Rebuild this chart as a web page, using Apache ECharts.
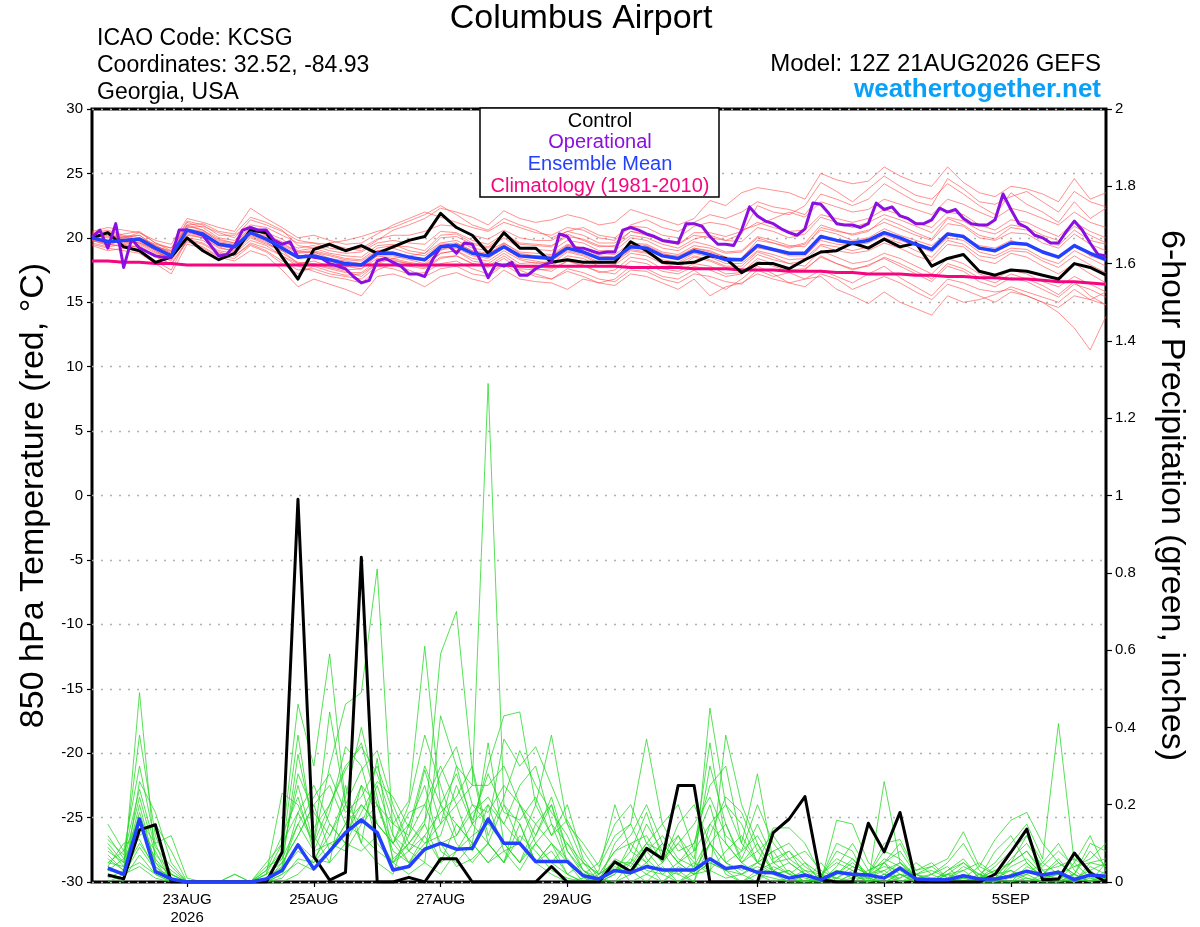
<!DOCTYPE html>
<html><head><meta charset="utf-8">
<script src="https://cdn.jsdelivr.net/npm/echarts@6/dist/echarts.min.js"></script>
<style>html,body{margin:0;padding:0;background:#fff}#c{width:1200px;height:927px}</style>
</head><body><div id="c"></div>
<script>
// x axis: 6-hour steps from 12Z 21AUG2026 (step 0) to step 64
const tickIdx = [6, 14, 22, 30, 42, 50, 58];
const tickText = ['23AUG\n2026', '25AUG', '27AUG', '29AUG', '1SEP', '3SEP', '5SEP'];

// 850 hPa temperature (°C), 6-hourly, steps 0..64
const control = [20.0,20.4,19.3,19.0,18.1,18.5,20.0,19.0,18.3,18.8,20.6,
  20.4,18.5,16.8,19.1,19.5,19.0,19.4,18.8,19.3,19.8,20.1,
  21.9,20.8,20.2,18.8,20.4,19.2,19.2,18.1,18.3,18.1,18.1,
  18.1,19.7,19.0,18.1,18.0,18.1,18.6,18.4,17.3,18.0,
  18.0,17.6,18.3,18.9,19.0,19.6,19.2,19.9,19.3,19.6,17.8,
  18.4,18.7,17.4,17.1,17.5,17.4,17.1,16.8,18.0,17.7,17.1];
const ensMean = [20.0,19.7,19.8,19.9,19.2,18.6,20.6,20.3,19.5,19.3,20.4,
  19.9,19.2,18.5,18.6,18.3,18.0,17.9,18.8,18.8,18.5,18.3,
  19.3,19.4,18.8,18.6,19.3,18.6,18.5,18.4,19.2,18.9,18.4,
  18.4,19.3,19.2,18.6,18.4,19.0,18.7,18.3,18.3,19.4,
  19.1,18.8,18.8,20.1,19.8,19.6,19.8,20.4,20.0,19.5,19.1,
  20.3,20.1,19.2,19.0,19.6,19.5,18.9,18.5,19.4,18.8,18.3];
const climatology = [18.2,18.2,18.1,18.1,18.0,18.0,17.9,17.9,17.9,17.9,17.9,
  17.9,17.9,17.9,17.9,17.9,17.9,17.9,17.9,17.9,17.9,17.9,
  17.9,17.9,17.9,17.9,17.9,17.8,17.8,17.8,17.8,17.8,17.8,
  17.8,17.7,17.7,17.7,17.7,17.6,17.6,17.6,17.5,17.5,
  17.5,17.4,17.4,17.4,17.3,17.3,17.2,17.2,17.2,17.1,17.1,
  17.0,17.0,16.9,16.9,16.8,16.8,16.7,16.6,16.6,16.5,16.4];
// operational run is 3-hourly: half steps 0, 0.5, 1 ... 64
const operational = [20.05,20.6,19.2,21.1,17.7,19.9,19.2,18.9,18.6,18.5,18.5,
  20.6,20.6,20.4,20.2,19.4,18.6,18.7,19.4,20.6,20.8,20.6,
  20.6,19.8,19.5,19.7,18.5,18.6,18.5,18.4,18.0,17.8,17.6,
  17.0,16.5,16.7,18.2,18.4,18.1,17.8,17.2,17.2,17.0,
  18.3,19.3,19.4,18.8,19.6,19.5,18.3,16.9,18.0,17.8,18.1,
  17.1,17.1,17.6,17.9,18.1,20.3,20.1,19.2,19.2,19.0,18.8,
  18.9,18.9,20.6,20.8,20.6,20.3,20.1,19.8,19.7,19.6,21.1,
  21.1,20.9,20.1,19.5,19.5,19.4,20.6,22.4,21.7,21.3,
  21.1,20.7,20.4,20.2,20.7,22.7,22.6,21.9,21.1,21.0,21.0,
  20.8,21.1,22.7,22.2,22.4,21.7,21.5,21.1,21.1,21.4,22.3,
  22.0,22.2,21.5,21.1,21.0,21.0,21.4,23.4,22.2,21.1,20.8,
  20.2,20.0,19.6,19.6,20.5,21.3,20.6,19.6,18.7,18.6];

const tM1 = [20.2,20.0,20.3,20.5,19.6,19.2,20.8,20.9,20.4,20.0,21.4,21.0,20.5,19.8,19.6,19.5,19.2,19.0,19.8,20.6,21.0,
  21.5,22.3,22.0,21.6,21.0,22.1,21.5,21.2,21.4,21.8,21.5,21.0,21.2,22.2,21.8,21.4,21.0,21.5,22.9,22.5,23.5,
  23.9,23.7,23.5,23.0,25.0,24.5,24.2,24.4,25.5,24.8,24.3,24.0,25.5,24.3,23.5,23.2,24.0,23.8,23.4,22.8,24.6,23.0,23.5];
const tM2 = [19.6,19.3,19.5,19.2,18.5,18.0,19.8,19.5,18.8,18.6,19.5,19.0,18.2,17.5,17.6,17.2,17.0,16.8,17.8,17.6,
  17.2,17.3,18.0,18.2,17.6,17.2,18.0,17.5,17.0,16.8,17.6,17.3,16.8,16.6,17.5,17.4,16.8,16.5,17.2,17.0,16.6,16.4,
  17.5,17.0,17.3,16.8,17.5,17.0,16.5,17.2,17.8,16.9,16.2,15.5,16.8,16.5,16.0,15.8,
  16.0,15.5,15.0,14.2,13.0,11.3,13.9];
const tM3 = [19.5,19.2,19.0,18.8,18.0,17.2,19.5,19.2,18.5,18.2,19.0,18.6,17.5,16.2,16.8,16.4,16.0,15.5,17.0,17.2,
  16.8,16.2,17.0,17.3,16.8,16.5,17.5,16.8,16.6,16.5,16.0,16.8,16.5,16.3,17.2,17.0,16.5,16.0,16.8,15.5,16.2,16.5,
  17.2,16.8,16.5,16.8,17.0,16.0,15.5,14.9,15.8,15.0,14.5,14.0,15.5,15.0,15.2,15.6,16.2,15.8,15.4,15.0,16.0,15.2,15.8];
const tM4 = [20.5,20.8,20.6,20.4,19.8,19.5,21.5,21.2,20.8,20.5,22.3,21.5,20.8,20.0,20.2,19.8,19.5,19.6,20.3,21.0,
  21.5,22.0,21.6,21.2,20.8,20.5,21.2,20.8,20.4,20.2,20.8,20.6,20.0,19.8,20.9,20.8,20.2,20.0,20.9,21.2,
  21.0,20.6,21.0,21.5,22.0,21.6,22.8,22.4,22.0,22.2,23.0,22.6,22.2,21.8,23.0,22.6,22.0,21.5,22.3,22.0,
  21.5,21.0,22.0,21.2,20.8];
const tM5 = [20.0,20.4,20.0,20.2,19.4,18.8,21.0,20.6,19.9,19.6,20.8,20.2,19.6,18.9,19.0,18.7,18.4,18.3,19.2,19.4,
  19.3,19.0,20.2,20.3,19.6,19.3,20.2,19.5,19.4,19.3,20.3,19.8,19.3,19.4,20.5,20.2,19.8,19.5,20.2,20.0,19.8,20.3,
  22.5,22.0,21.8,22.5,24.3,23.6,22.8,23.8,24.8,24.0,23.3,23.0,24.2,23.4,22.5,21.8,23.5,22.6,22.0,21.2,22.8,21.5,22.3];
const tM6 = [19.8,19.4,19.9,19.6,18.9,18.4,20.2,20.0,19.3,18.9,20.0,19.5,19.0,18.0,18.2,17.8,17.5,17.6,18.4,18.2,
  18.0,17.8,18.8,19.0,18.2,18.0,18.8,18.0,18.1,17.8,18.6,18.4,17.8,17.9,18.8,18.6,18.0,17.7,18.5,18.2,
  17.7,17.6,18.7,18.3,18.0,18.2,19.4,19.0,18.8,19.0,19.6,19.2,18.6,18.2,19.5,19.3,18.3,18.0,18.8,18.5,
  17.8,17.2,18.0,17.2,16.5];
const tM7 = [20.3,20.1,20.0,20.4,19.6,19.0,21.2,20.8,20.0,19.8,20.9,20.4,19.9,19.0,19.2,18.8,18.6,18.5,19.4,19.5,
  19.0,18.8,20.0,20.1,19.5,19.2,20.0,19.2,19.1,19.0,19.8,19.6,19.0,19.0,20.0,19.8,19.2,19.0,19.7,19.4,
  18.9,19.0,20.1,19.8,19.4,19.3,20.8,20.5,20.3,20.6,21.2,20.7,20.2,19.8,21.1,20.9,20.0,19.8,20.4,20.3,
  19.6,19.2,20.3,19.5,19.0];
const tM8 = [19.7,19.9,19.5,19.7,19.0,18.3,20.3,20.0,19.2,19.0,20.2,19.7,18.8,18.1,18.0,17.7,17.4,17.0,18.0,18.4,
  18.6,18.8,19.6,19.8,19.2,19.0,19.6,18.9,18.8,18.7,19.5,19.2,18.8,18.7,19.6,19.5,18.9,18.7,19.4,19.2,
  18.8,18.9,20.0,19.6,19.3,19.6,21.0,20.6,20.2,20.5,21.5,21.0,20.4,19.9,21.5,21.0,20.2,19.9,20.8,20.6,
  20.0,19.4,20.6,19.8,19.5];
const tM9 = [20.1,19.6,19.7,19.6,19.1,18.6,20.4,20.1,19.4,19.2,20.3,19.8,19.2,18.6,18.5,18.4,18.2,18.0,19.0,18.9,
  18.5,18.2,19.1,19.2,18.6,18.4,19.2,18.4,18.2,18.0,18.9,18.6,18.0,18.1,19.0,18.8,18.2,18.0,18.6,18.3,
  17.8,17.8,18.9,18.5,18.0,17.8,19.0,18.5,18.0,18.2,18.8,18.4,17.8,17.2,18.4,18.0,17.2,16.8,17.5,17.2,
  16.6,16.2,17.0,16.4,15.8];
const tM10 = [20.0,20.2,19.8,19.5,18.8,18.5,20.9,20.6,19.7,19.5,20.6,20.0,19.4,18.8,18.9,18.4,18.0,17.8,18.6,18.6,
  18.3,18.0,19.0,19.6,19.0,18.8,19.5,18.6,18.6,18.5,19.4,19.0,18.5,18.4,19.4,19.3,18.7,18.6,19.2,18.9,
  18.5,18.4,19.8,19.6,19.2,19.5,20.6,20.3,19.8,20.0,20.7,20.2,19.8,19.4,20.4,20.0,19.4,19.2,19.8,19.4,
  19.0,18.4,19.5,18.6,18.2];
const tM11 = [20.2,19.8,20.1,20.2,19.3,18.8,20.6,20.4,19.6,19.4,20.5,20.1,19.5,18.9,18.9,18.6,18.3,18.2,19.0,19.2,
  18.8,18.6,19.5,19.6,19.0,18.6,19.6,18.8,18.6,18.6,19.4,19.2,18.6,18.5,19.5,19.4,18.8,18.5,19.2,19.0,
  18.5,18.2,19.2,19.0,18.6,18.6,19.8,19.5,19.4,19.6,20.2,19.8,19.4,18.9,20.0,19.8,18.9,18.6,19.2,19.1,
  18.4,18.0,19.0,18.4,17.8];
const tM12 = [19.4,19.0,19.2,19.0,18.2,17.5,19.9,19.6,18.9,18.6,19.6,19.2,18.6,17.8,17.4,17.0,16.8,16.5,17.5,18.0,
  17.8,17.6,18.4,18.6,18.0,17.8,18.6,17.8,17.6,17.4,18.2,17.8,17.4,17.2,18.2,18.0,17.4,17.2,17.8,17.5,
  17.0,17.2,18.2,17.8,17.4,17.5,18.6,18.0,17.6,17.8,18.5,18.0,17.4,16.8,18.0,17.6,16.9,16.5,17.2,16.8,
  16.3,15.6,16.6,15.5,14.8];
const tM13 = [20.4,20.6,20.2,20.0,19.5,19.2,21.3,21.0,20.2,20.2,21.0,20.8,20.2,19.6,19.6,19.2,19.0,19.2,19.9,20.2,
  20.2,20.5,21.0,20.9,20.2,19.9,20.6,20.0,19.8,19.8,20.5,20.2,19.6,19.6,20.5,20.3,19.7,19.5,20.4,20.4,
  20.1,20.5,21.2,20.8,20.5,20.6,21.8,21.5,21.2,21.5,22.2,21.8,21.2,20.8,22.0,21.8,21.0,20.6,21.4,21.2,
  20.6,20.1,21.2,20.5,20.0];
const tM14 = [19.9,19.7,19.6,19.8,19.0,18.4,20.5,20.2,19.4,19.1,20.1,19.6,19.0,18.4,18.8,18.2,17.8,17.6,18.6,18.4,
  18.1,17.9,18.8,19.0,18.4,18.2,19.0,18.3,18.0,18.2,19.0,18.7,18.1,18.2,19.1,18.9,18.3,18.1,18.8,18.5,
  18.0,18.0,19.0,18.7,18.3,18.4,19.5,19.3,19.0,19.3,20.0,19.6,19.0,18.5,19.8,19.5,18.6,18.4,19.0,18.9,
  18.2,17.7,18.6,17.9,17.3];
const tM15 = [20.3,20.5,20.1,19.8,19.3,19.0,21.0,21.1,20.5,20.3,21.6,
  21.2,20.6,19.4,19.2,19.6,19.8,20.1,20.5,20.8,21.3,21.8,
  22.5,21.8,21.0,20.6,21.5,21.0,20.6,20.0,20.5,20.8,20.2,
  20.0,21.0,21.4,20.8,20.5,21.2,21.8,21.5,22.0,22.8,
  22.4,22.2,21.8,23.4,23.0,22.5,23.0,24.2,23.5,22.8,22.5,
  24.6,23.8,22.8,22.6,23.2,23.6,22.8,22.0,23.6,22.8,22.4];
const tM16 = [19.8,19.5,19.3,19.4,18.6,17.9,19.7,19.3,18.6,18.4,19.4,
  18.9,18.0,17.2,17.8,17.4,17.1,17.2,18.0,17.9,17.5,17.0,
  17.6,17.8,17.2,17.0,17.9,17.2,17.2,16.8,17.4,17.0,16.5,
  16.8,17.8,17.6,17.0,16.8,17.5,16.6,16.0,16.8,17.8,
  17.2,16.5,16.2,17.2,16.8,16.0,16.5,17.0,16.5,15.8,15.2,
  16.4,16.0,15.5,15.0,15.8,15.5,15.0,14.6,15.5,15.2,14.8];
const tM17 = [20.1,20.3,19.9,20.0,19.4,18.9,20.7,20.5,19.8,19.6,20.7,
  20.2,19.7,19.2,19.4,19.0,18.8,18.9,19.6,19.8,19.6,19.5,
  20.5,20.4,19.8,19.5,20.3,19.6,19.5,19.4,20.1,19.9,19.4,
  19.3,20.2,20.0,19.5,19.2,19.9,20.2,19.8,19.7,20.8,
  20.5,20.0,20.3,21.6,21.2,20.8,21.2,21.8,21.4,20.9,20.4,
  21.6,21.3,20.6,20.3,21.0,20.8,20.2,19.8,20.9,20.2,19.6];
const tM18 = [19.9,19.5,19.4,19.3,18.7,18.2,20.0,19.8,19.0,18.8,19.8,
  19.4,18.6,18.0,17.9,17.6,17.3,17.3,18.2,18.3,18.0,17.7,
  18.5,18.6,18.0,17.7,18.4,17.6,17.5,17.6,18.2,17.9,17.3,
  17.5,18.5,18.3,17.6,17.4,18.0,17.8,17.2,17.3,18.4,
  18.0,17.5,17.6,18.5,18.0,17.5,17.9,18.4,17.8,17.2,16.6,
  17.8,17.4,16.6,16.2,16.9,16.6,16.0,15.4,16.4,16.0,15.4];
const tempMembers = [tM1,tM2,tM3,tM4,tM5,tM6,tM7,tM8,tM9,tM10,tM11,tM12,tM13,tM14,tM15,tM16,tM17,tM18];

// 6-hour precipitation (inches), steps 1..64
const pControl = [0.018,0.008,0.135,0.148, 0,0,0,0, 0,0,0,0.077, 0.99,0.066,0.005,0.025,
  0.84,0,0,0.012, 0,0.06,0.06,0, 0,0,0,0, 0.04,0,0,0,
  0.052,0.027,0.087,0.06, 0.25,0.25,0,0, 0,0,0.128,0.163, 0.221,0.006,0,0,
  0.152,0.078,0.18,0, 0,0,0,0, 0.02,0.077,0.137,0.006, 0.008,0.075,0.024,0];
const pMean = [0.036,0.02,0.163,0.027, 0.008,0,0,0, 0,0,0.008,0.03, 0.096,0.034,0.08,0.128,
  0.161,0.128,0.031,0.04, 0.085,0.1,0.085,0.087, 0.163,0.1,0.1,0.053, 0.053,0.053,0.016,0.008,
  0.03,0.024,0.04,0.031, 0.031,0.031,0.06,0.035, 0.04,0.025,0.024,0.01, 0.018,0.006,0.025,0.02,
  0.018,0.01,0.036,0.008, 0.006,0.006,0.016,0.008, 0.008,0.015,0.028,0.018, 0.025,0.006,0.018,0.015];
const pG1 = [0.03,0.02,0.49,0.05, 0,0,0,0, 0,0,0.02,0.05, 0.12,0.2,0.08,0.15,
  0.25,0.1,0.05,0.12, 0.29,0.15,0.3,0.25, 1.29,0.2,0.1,0.05, 0.08,0.02,0,0.01,
  0.03,0.05,0.02,0, 0.04,0.02,0.05,0.03, 0,0.02,0.01,0, 0,0.01,0.03,0.02,
  0,0.01,0.02,0, 0,0.01,0.03,0, 0,0.02,0.05,0.01, 0.03,0,0.02,0.01];
const pG2 = [0.08,0.05,0.38,0.12, 0.02,0,0,0, 0.02,0,0.03,0.08, 0.25,0.1,0.3,0.46,
  0.49,0.81,0.12,0.05, 0.08,0.1,0.04,0.06, 0.1,0.05,0.12,0.08, 0.03,0.01,0,0.02,
  0.05,0.02,0.08,0.03, 0.02,0.05,0.03,0.01, 0.02,0.05,0.03,0.01, 0,0.02,0.01,0.03,
  0.01,0.05,0,0.01, 0,0.02,0.01,0.04, 0.02,0.03,0.01,0, 0.01,0.02,0,0.03];
const pG3 = [0.05,0.08,0.3,0.1, 0.12,0.01,0,0, 0,0,0.05,0.1, 0.46,0.3,0.59,0.2,
  0.15,0.2,0.08,0.05, 0.12,0.05,0.15,0.1, 0.05,0.08,0.03,0.1, 0.15,0.05,0.02,0,
  0.1,0.15,0.06,0.02, 0,0.03,0.1,0.05, 0.02,0,0.04,0.02, 0.01,0,0.02,0.05,
  0.02,0.03,0,0.02, 0.04,0.01,0,0.02, 0,0.05,0.08,0.02, 0.01,0,0.04,0.02];
const pG4 = [0.02,0,0.26,0.18, 0.05,0,0,0, 0,0,0.01,0.04, 0.33,0.14,0.2,0.29,
  0.36,0.2,0.15,0.21, 0.61,0.2,0.15,0.1, 0.36,0.1,0.05,0.12, 0.2,0.08,0.03,0.01,
  0,0.05,0.1,0.15, 0.2,0.08,0.36,0.1, 0.05,0.02,0,0.01, 0.03,0,0.01,0,
  0,0.02,0.05,0.01, 0,0.01,0,0.01, 0.03,0.01,0.02,0, 0,0.05,0.01,0];
const pG5 = [0.1,0.05,0.22,0.07, 0.03,0,0,0, 0.02,0,0,0.02, 0.1,0.06,0.12,0.2,
  0.29,0.34,0.2,0.1, 0.15,0.59,0.7,0.29, 0.1,0.2,0.15,0.05, 0.1,0.02,0,0.03,
  0.2,0.08,0.05,0.1, 0.05,0.02,0.45,0.2, 0.1,0.28,0.05,0.02, 0,0.01,0,0.02,
  0.01,0,0.02,0, 0.01,0,0.02,0, 0,0.02,0.03,0.01, 0.02,0.01,0,0.02];
const pG6 = [0.15,0.08,0.16,0.1, 0,0,0,0, 0,0,0.02,0.23, 0.2,0.1,0.44,0.2,
  0.1,0.32,0.05,0.08, 0.05,0.43,0.3,0.15, 0.3,0.43,0.44,0.2, 0.38,0.15,0.05,0.02,
  0.05,0,0.02,0.05, 0.1,0.05,0.02,0.38, 0.2,0.1,0.03,0.05, 0.02,0,0.16,0.15,
  0.05,0.02,0,0.01, 0.02,0,0.01,0, 0.01,0.03,0,0.02, 0,0.01,0.03,0];
const pG7 = [0.04,0.1,0.11,0.03, 0.02,0,0,0, 0,0,0.04,0.06, 0.15,0.08,0.1,0.12,
  0.2,0.15,0.1,0.18, 0.2,0.1,0.12,0.2, 0.15,0.37,0.3,0.35, 0.25,0.15,0.1,0.04,
  0.12,0.15,0.37,0.15, 0.08,0.1,0.2,0.05, 0.03,0.05,0.14,0.14, 0.1,0.02,0.05,0.03,
  0,0.26,0.05,0.01, 0,0.02,0,0.01, 0.02,0,0.01,0, 0,0.02,0,0.01];
const pG8 = [0.07,0.03,0.2,0.04, 0.01,0,0,0, 0,0,0,0.03, 0.08,0.05,0.15,0.1,
  0.25,0.2,0.1,0.15, 0.1,0.15,0.2,0.08, 0.2,0.15,0.1,0.2, 0.12,0.16,0.08,0.02,
  0.08,0.1,0.12,0.05, 0.12,0.03,0.1,0.15, 0.05,0.1,0.02,0, 0,0.05,0,0,
  0.02,0.1,0.11,0.03, 0.04,0.06,0.13,0.04, 0.11,0.16,0.18,0.1, 0.05,0.02,0.1,0.08];
const pG9 = [0.02,0.01,0.07,0.02, 0,0,0,0, 0,0,0,0.02, 0.05,0.03,0.08,0.15,
  0.12,0.08,0.05,0.1, 0.08,0.2,0.1,0.05, 0.1,0.05,0.2,0.1, 0.05,0.1,0.03,0,
  0.02,0.1,0.05,0.1, 0.05,0.02,0.03,0.08, 0.12,0.05,0.08,0.1, 0.05,0.02,0,0.01,
  0.03,0.05,0.1,0.02, 0,0.03,0.05,0.02, 0.05,0.1,0.15,0.06, 0.41,0.05,0.12,0.03];
const pG10 = [0.12,0.06,0.14,0.08, 0,0,0,0, 0,0,0,0.08, 0.38,0.12,0.05,0.25,
  0.1,0.05,0.02,0.15, 0.25,0.08,0.05,0.1, 0.05,0.1,0.05,0.15, 0.2,0.05,0.02,0.05,
  0.15,0.2,0.1,0.05, 0.15,0.2,0.1,0.05, 0.08,0.2,0.1,0.05, 0.02,0.01,0.1,0.08,
  0,0.02,0.01,0.05, 0.02,0.04,0,0.01, 0.08,0.12,0.05,0.01, 0.02,0,0.05,0.06];
const pG11 = [0.01,0.03,0.05,0.02, 0,0,0,0, 0,0,0,0.05, 0.12,0.2,0.25,0.15,
  0.2,0.15,0.1,0.05, 0.1,0.12,0.25,0.15, 0.2,0.08,0.1,0.05, 0.1,0.05,0,0,
  0.05,0.05,0.15,0.08, 0.02,0,0.15,0.2, 0.15,0.05,0.02,0.03, 0,0,0.02,0.06,
  0.02,0.04,0.03,0, 0.01,0,0,0.02, 0,0,0.02,0.05, 0.1,0.03,0,0.02];
const pG12 = [0,0.02,0.04,0.01, 0,0,0,0, 0,0,0,0.01, 0.06,0.05,0.1,0.08,
  0.15,0.25,0.12,0.08, 0.15,0.05,0.08,0.12, 0.15,0.1,0.05,0.1, 0.05,0.02,0.05,0,
  0,0.02,0.05,0, 0.03,0,0.1,0.02, 0,0.03,0.05,0.08, 0.02,0,0,0.02,
  0,0.05,0.08,0.02, 0,0.02,0.03,0.05, 0.02,0.05,0.12,0.03, 0,0.02,0,0.05];
const pG13 = [0.05,0.04,0.15,0.06, 0.01,0,0,0, 0,0,0,0, 0.02,0.06,0.05,0.1,
  0.08,0.12,0.05,0.02, 0.05,0.02,0.08,0.15, 0.1,0.05,0.15,0.05, 0.02,0,0.01,0,
  0.02,0.06,0.03,0.02, 0.05,0.08,0.15,0.1, 0.05,0.08,0.03,0.01, 0,0,0.03,0.01,
  0.01,0,0.01,0.03, 0.05,0.01,0,0, 0,0,0.04,0.02, 0.06,0.01,0.02,0];
const pG14 = [0.09,0.04,0.18,0.05, 0.02,0,0,0, 0,0,0.01,0.03, 0.18,0.1,0.2,0.3,
  0.35,0.28,0.15,0.12, 0.2,0.3,0.2,0.25, 0.25,0.3,0.2,0.15, 0.1,0.06,0.02,0,
  0.05,0.03,0,0.04, 0,0.02,0.05,0.03, 0.02,0.04,0.02,0.03, 0,0.01,0,0,
  0,0,0.02,0.01, 0,0,0.01,0, 0.01,0,0,0.01, 0,0,0.01,0.02];
const pG15 = [0.06,0.03,0.1,0.04, 0,0,0,0, 0,0,0.03,0.12, 0.22,0.08,0.18,0.35,
  0.3,0.15,0.1,0.2, 0.38,0.25,0.12,0.18, 0.22,0.15,0.25,0.3, 0.15,0.1,0.05,0.02,
  0.08,0.12,0.2,0.1, 0.05,0.1,0.25,0.3, 0.1,0.05,0.08,0.02, 0.05,0,0.04,0.1,
  0.03,0.05,0.02,0, 0.02,0.05,0.1,0.03, 0,0.04,0.06,0.02, 0.05,0.02,0.08,0.04];
const pG16 = [0.11,0.07,0.24,0.09, 0.04,0,0,0, 0,0,0.01,0.06, 0.28,0.18,0.12,0.22,
  0.4,0.22,0.06,0.1, 0.16,0.28,0.35,0.2, 0.18,0.25,0.2,0.12, 0.22,0.08,0.02,0.01,
  0.03,0.08,0.18,0.06, 0.1,0.15,0.22,0.12, 0.08,0.12,0.05,0.06, 0.03,0.02,0.06,0.04,
  0.02,0.08,0.06,0.01, 0,0.03,0.06,0.01, 0.04,0.08,0.12,0.05, 0.02,0.04,0.06,0.1];
const pG17 = [0.03,0.06,0.12,0.15, 0.08,0,0,0, 0,0,0,0.04, 0.15,0.22,0.28,0.18,
  0.22,0.3,0.18,0.08, 0.12,0.18,0.22,0.3, 0.12,0.22,0.34,0.25, 0.18,0.12,0.03,0,
  0.04,0.02,0.08,0.12, 0.06,0.04,0.12,0.22, 0.18,0.08,0.12,0.06, 0.08,0.03,0.01,0.04,
  0.02,0.06,0.04,0.02, 0.03,0.01,0.04,0.02, 0.01,0.06,0.1,0.04, 0.08,0.04,0.05,0.04];
const pG18 = [0.04,0.02,0.09,0.03, 0,0,0,0, 0,0,0.02,0.1, 0.18,0.25,0.15,0.1,
  0.18,0.26,0.22,0.14, 0.3,0.2,0.28,0.16, 0.28,0.18,0.16,0.22, 0.12,0.2,0.06,0.01,
  0.06,0.04,0.1,0.08, 0.12,0.06,0.3,0.15, 0.06,0.15,0.06,0.08, 0.04,0.01,0.08,0.06,
  0.01,0.03,0.05,0.02, 0.01,0.02,0.05,0.01, 0.03,0.05,0.08,0.03, 0.04,0.06,0.03,0.05];
const precipMembers = [pG1,pG2,pG3,pG4,pG5,pG6,pG7,pG8,pG9,pG10,pG11,pG12,pG13,pG14,pG15,pG16,pG17,pG18];

const FONT = '"Liberation Sans", Arial, Helvetica, sans-serif';
const chart = echarts.init(document.getElementById('c'));

function line(data, color, width, yIdx, z, opacity) {
  return {
    type: 'line', data: data, xAxisIndex: 0, yAxisIndex: yIdx,
    showSymbol: false, symbol: 'none', silent: true, animation: false, z: z,
    lineStyle: { color: color, width: width, opacity: opacity == null ? 1 : opacity, join: 'round' }
  };
}
const tPts = a => a.map((v, i) => [i, v]);
const pPts = a => a.map((v, k) => [k + 1, v]);

const series = [];
tempMembers.forEach(m => series.push(line(tPts(m), '#ff4a4a', 0.85, 0, 2, 0.72)));
precipMembers.forEach(m => series.push(line(pPts(m), '#22d822', 0.85, 1, 2, 0.9)));
series.push(line(tPts(climatology), '#f5057f', 3, 0, 4));
series.push(line(tPts(control), '#000000', 3, 0, 5));
series.push(line(pPts(pControl), '#000000', 3, 1, 5));
series.push(line(operational.map((v, j) => [j / 2, v]), '#8a0fe0', 3, 0, 6));
series.push(line(tPts(ensMean), '#2440ff', 3.5, 0, 7));
series.push(line(pPts(pMean), '#2440ff', 3.5, 1, 7));

const txt = (text, x, y, size, color, align, weight) => ({
  type: 'text', x: x, y: y, z: 101,
  style: { text: text, fill: color, font: (weight || 'normal') + ' ' + size + 'px ' + FONT,
           textAlign: align, textVerticalAlign: 'middle' }
});

chart.setOption({
  backgroundColor: '#ffffff',
  animation: false,
  grid: { left: 92, right: 94, top: 109, bottom: 44, show: true, borderColor: '#000', borderWidth: 3, backgroundColor: 'transparent' },
  xAxis: [{
    type: 'value', min: 0, max: 64, position: 'bottom',
    axisLine: { show: false, onZero: false },
    splitLine: { show: false },
    axisTick: { show: true, customValues: tickIdx, length: 5, lineStyle: { color: '#000', width: 1.2 } },
    axisLabel: { show: true, customValues: tickIdx, color: '#000', fontSize: 15, fontFamily: FONT, margin: 9, lineHeight: 18,
      formatter: v => tickText[tickIdx.indexOf(v)] || '' }
  }],
  yAxis: [{
    type: 'value', min: -30, max: 30, interval: 5, position: 'left',
    name: '850 hPa Temperature (red, °C)', nameLocation: 'middle', nameGap: 40,
    nameTextStyle: { fontSize: 34, color: '#000', fontFamily: FONT },
    axisLine: { show: false },
    axisTick: { show: true, length: 5, lineStyle: { color: '#000', width: 1.2 } },
    axisLabel: { color: '#000', fontSize: 15, fontFamily: FONT, margin: 9 },
    splitLine: { show: true, lineStyle: { color: '#b0b0b0', type: [2, 7], width: 1.3 } }
  }, {
    type: 'value', min: 0, max: 2, interval: 0.2, position: 'right',
    name: '6-hour Precipitation (green, inches)', nameLocation: 'middle', nameGap: 48, nameRotate: -90,
    nameTextStyle: { fontSize: 34, color: '#000', fontFamily: FONT },
    axisLine: { show: false },
    axisTick: { show: true, length: 6, lineStyle: { color: '#000', width: 1.2 } },
    axisLabel: { color: '#000', fontSize: 15, fontFamily: FONT, margin: 9 },
    splitLine: { show: false }
  }],
  graphic: [
    txt('Columbus Airport', 581, 19, 34, '#000', 'center'),
    txt('ICAO Code: KCSG', 97, 39, 23, '#000', 'left'),
    txt('Coordinates: 32.52, -84.93', 97, 66, 23, '#000', 'left'),
    txt('Georgia, USA', 97, 93, 23, '#000', 'left'),
    txt('Model: 12Z 21AUG2026 GEFS', 1101, 64, 24, '#000', 'right'),
    txt('weathertogether.net', 1101, 90, 26, '#0aa0f8', 'right', 'bold'),
    { type: 'rect', z: 100, shape: { x: 480, y: 108, width: 239, height: 89 },
      style: { fill: '#fff', stroke: '#000', lineWidth: 1.5 } },
    txt('Control', 600, 121, 20, '#000', 'center'),
    txt('Operational', 600, 142, 20, '#8a0fe0', 'center'),
    txt('Ensemble Mean', 600, 164, 20, '#2440ff', 'center'),
    txt('Climatology (1981-2010)', 600, 186, 20, '#f5057f', 'center')
  ],
  series: series
});
</script>
</body></html>
